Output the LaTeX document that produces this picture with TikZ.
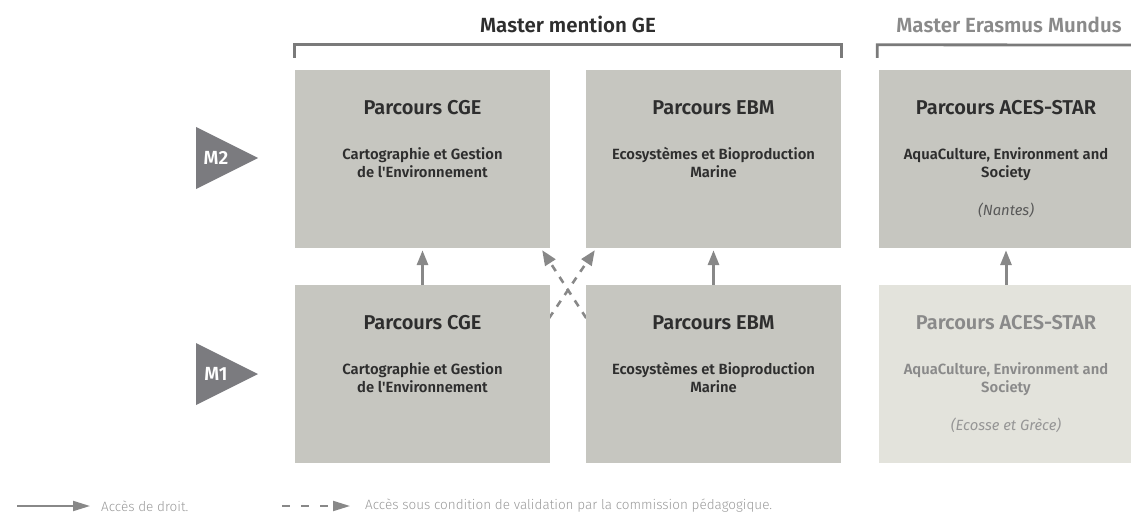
\documentclass[tikz,border=0pt]{standalone}
\usepackage{fontspec}
\setmainfont{Fira Sans}[BoldFont={Fira Sans SemiBold}, BoldItalicFont={Fira Sans SemiBold Italic}]
\newfontfamily\lightfont{Fira Sans Light}
\usetikzlibrary{arrows.meta,calc,backgrounds}
\definecolor{boxgray}{HTML}{C6C6C0}
\definecolor{boxlight}{HTML}{E3E3DC}
\definecolor{txtdark}{HTML}{2E2E2E}
\definecolor{txtlight}{HTML}{8A8A8A}
\definecolor{trigray}{HTML}{7B7B7F}
\definecolor{arrgray}{HTML}{888888}
\definecolor{brackgray}{HTML}{7A7A7A}
\definecolor{legtxt}{HTML}{9A9A9A}
\tikzset{
  box/.style={fill=boxgray, draw=none, minimum width=255pt, minimum height=178pt, inner sep=0pt},
  ttl/.style={font=\bfseries\fontsize{20}{24}\selectfont, text=txtdark, anchor=base, inner sep=0pt},
  sub/.style={font=\bfseries\fontsize{14.8}{17}\selectfont, text=txtdark, anchor=base, inner sep=0pt},
  place/.style={font=\itshape\fontsize{14.8}{17}\selectfont, text=txtdark!80, anchor=base, inner sep=0pt},
  head/.style={font=\bfseries\fontsize{20.5}{24}\selectfont, anchor=base, inner sep=0pt},
  mlabel/.style={font=\bfseries\fontsize{19}{21}\selectfont, text=white, inner sep=0pt},
  solidarrow/.style={draw=arrgray, line width=3pt, -{Triangle[length=15pt,width=11pt]}},
  dasharrow/.style={draw=arrgray, line width=2.6pt, dash pattern=on 7pt off 7pt, -{Triangle[length=15pt,width=12pt]}},
  legarrow/.style={draw=arrgray, line width=2pt, -{Triangle[length=17pt,width=10pt]}},
  legtext/.style={font=\lightfont\fontsize{13.5}{15}\selectfont, text=legtxt, anchor=west, inner sep=0pt},
  bracket/.style={draw=brackgray, line width=2.8pt}
}
\begin{document}
\begin{tikzpicture}[x=1pt,y=-1pt]
\useasboundingbox (0,0) rectangle (1131,513);

% boxes
\node[box] (cge2) at (422.5,159) {};
\node[box] (ebm2) at (713.5,159) {};
\node[box] (aces2) at (1006,159) {};
\node[box] (cge1) at (422.5,374) {};
\node[box] (ebm1) at (713.5,374) {};
\node[box, fill=boxlight] (aces1) at (1006,374) {};

% dashed crossing arrows (partly hidden under the M1 boxes)
\begin{scope}[on background layer]
\coordinate (d1s) at ($(cge1.north east)+(-9,45)$);
\coordinate (d2s) at ($(ebm1.north west)+(8,45)$);
\coordinate (d1e) at ($(ebm2.south west)+(9,2)$);
\coordinate (d2e) at ($(cge2.south east)+(-8,2)$);
\draw[dasharrow] (d1s) -- (d1e);
\draw[dasharrow] (d2s) -- (d2e);
\end{scope}

% headings and brackets
\node[head, text=txtdark] (hge) at (568,33) {Master mention GE};
\node[head, text=txtlight] (hem) at (1009,33) {Master Erasmus Mundus};
\draw[bracket] ($(cge2.north west)+(0,-12)$) -- ($(cge2.north west)+(0,-25)$) -- ($(ebm2.north east)+(0,-25)$) -- ($(ebm2.north east)+(0,-12)$);
\draw[bracket] ($(aces2.north west)+(-1,-12)$) -- ($(aces2.north west)+(-1,-25)$) -- (1131,45);

% M2 texts
\node[ttl] (t1) at ($(cge2.north)+(0,45)$) {Parcours CGE};
\node[sub] (t2) at ($(cge2.north)+(0,90)$) {Cartographie et Gestion};
\node[sub] (t3) at ($(cge2.north)+(0,108)$) {de l\textquotesingle Environnement};
\node[ttl] (t4) at ($(ebm2.north)+(0,45)$) {Parcours EBM};
\node[sub] (t5) at ($(ebm2.north)+(0,90)$) {Ecosystèmes et Bioproduction};
\node[sub] (t6) at ($(ebm2.north)+(0,108)$) {Marine};
\node[ttl] (t7) at ($(aces2.north)+(0,45)$) {Parcours ACES-STAR};
\node[sub] (t8) at ($(aces2.north)+(0,90)$) {AquaCulture, Environment and};
\node[sub] (t9) at ($(aces2.north)+(0,108)$) {Society};
\node[place] (t10) at ($(aces2.north)+(0,146)$) {(Nantes)};

% M1 texts
\node[ttl] (u1) at ($(cge1.north)+(0,45)$) {Parcours CGE};
\node[sub] (u2) at ($(cge1.north)+(0,90)$) {Cartographie et Gestion};
\node[sub] (u3) at ($(cge1.north)+(0,108)$) {de l\textquotesingle Environnement};
\node[ttl] (u4) at ($(ebm1.north)+(0,45)$) {Parcours EBM};
\node[sub] (u5) at ($(ebm1.north)+(0,90)$) {Ecosystèmes et Bioproduction};
\node[sub] (u6) at ($(ebm1.north)+(0,108)$) {Marine};
\node[ttl, text=txtlight] (u7) at ($(aces1.north)+(0,45)$) {Parcours ACES-STAR};
\node[sub, text=txtlight] (u8) at ($(aces1.north)+(0,90)$) {AquaCulture, Environment and};
\node[sub, text=txtlight] (u9) at ($(aces1.north)+(0,108)$) {Society};
\node[place, text=txtlight!90] (u10) at ($(aces1.north)+(0,146)$) {(Ecosse et Grèce)};

% solid arrows
\draw[solidarrow, shorten >=2pt] (cge1.north) -- (cge2.south);
\draw[solidarrow, shorten >=2pt] (ebm1.north) -- (ebm2.south);
\draw[solidarrow, shorten >=2pt] (aces1.north) -- (aces2.south);

% level triangles
\fill[trigray] (196,127) -- (196,189) -- (258,158) -- cycle;
\node[mlabel] (m2) at (216,158) {M2};
\fill[trigray] (196,343) -- (196,405) -- (258,374) -- cycle;
\node[mlabel] (m1) at (216,374) {M1};

% legend
\coordinate (la) at (17,506);
\coordinate (lb) at (90,506);
\draw[legarrow] (la) -- (lb);
\node[legtext] (lt1) at (101,506) {Accès de droit.};
\coordinate (lc) at (282,506);
\coordinate (ld) at (350,506);
\draw[legarrow, dash pattern=on 8pt off 11pt] (lc) -- (ld);
\node[legtext] (lt2) at (365,506) {Accès sous condition de validation par la commission pédagogique.};
\end{tikzpicture}
\end{document}
